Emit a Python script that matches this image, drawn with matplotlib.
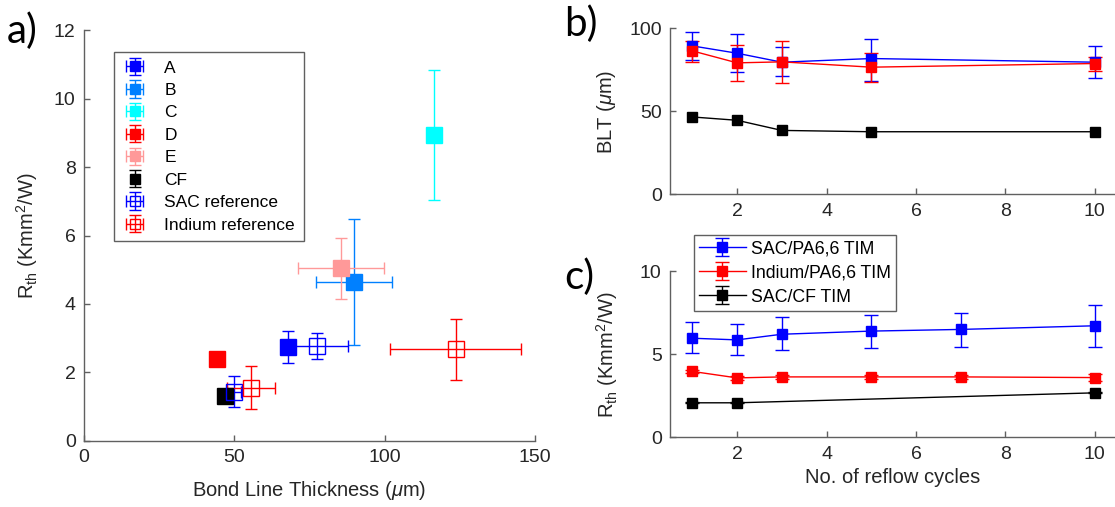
import numpy as np
import matplotlib
matplotlib.use("Agg")
import matplotlib.pyplot as plt

plt.rcParams['font.family'] = ['Liberation Sans', 'DejaVu Sans']
plt.rcParams['mathtext.fontset'] = 'custom'
plt.rcParams['mathtext.rm'] = 'Liberation Sans'
plt.rcParams['mathtext.it'] = 'Liberation Sans:italic'
plt.rcParams['mathtext.bf'] = 'Liberation Sans:bold'

# ---- panel a: Rth vs bond line thickness ----
samples = ['A', 'B', 'C', 'D', 'E', 'CF']
sample_colors = ['#0000ff', '#0080ff', '#00ffff', '#ff0000', '#ff9999', '#000000']
blt_a = [67.7, 89.8, 116.4, 44.1, 85.5, 46.9]
blt_a_err = [0.0, 12.7, 0.0, 0.0, 14.2, None]
rth_a = [2.75, 4.65, 8.93, 2.39, 5.04, 1.32]
rth_a_err = [0.46, 1.84, 1.90, 0.0, 0.88, 0.0]

sac_ref_blt = [49.9, 77.4]
sac_ref_blt_err = [2.4, 10.5]
sac_ref_rth = [1.44, 2.77]
sac_ref_rth_err = [0.45, 0.38]

in_ref_blt = [55.5, 123.6]
in_ref_blt_err = [7.9, 21.8]
in_ref_rth = [1.56, 2.68]
in_ref_rth_err = [0.62, 0.89]

# ---- panels b, c: vs reflow cycles ----
cyc_blt = [1, 2, 3, 5, 10]
blt_sac = [89.5, 85.1, 79.7, 81.9, 79.7]
blt_sac_lo = [80.9, 73.6, 71.2, 68.6, 70.2]
blt_sac_hi = [97.8, 96.4, 88.9, 93.6, 89.7]
blt_in = [86.5, 79.3, 79.9, 76.7, 78.9]
blt_in_lo = [80.1, 68.6, 67.0, 68.0, 74.2]
blt_in_hi = [92.4, 89.9, 92.2, 85.1, 82.9]
blt_cf = [46.7, 44.7, 38.6, 37.8, 37.8]

cyc_rth = [1, 2, 3, 5, 7, 10]
rth_sac = [5.98, 5.88, 6.22, 6.41, 6.51, 6.73]
rth_sac_lo = [5.06, 4.96, 5.28, 5.40, 5.48, 5.46]
rth_sac_hi = [6.93, 6.83, 7.25, 7.39, 7.51, 8.01]
rth_in = [3.98, 3.59, 3.65, 3.65, 3.65, 3.61]
rth_in_err = [0.1, 0.1, 0.1, 0.1, 0.1, 0.2]
cyc_cf = [1, 2, 10]
rth_cf = [2.09, 2.09, 2.69]

series_names = ['SAC/PA6,6 TIM', 'Indium/PA6,6 TIM', 'SAC/CF TIM']
series_colors = ['#0000ff', '#ff0000', '#000000']

spine_col = '#606060'
text_col = '#262626'
tick_fs = 14
label_fs = 14.5


def style_axes(ax):
    for s in ['top', 'right']:
        ax.spines[s].set_visible(False)
    for s in ['left', 'bottom']:
        ax.spines[s].set_color(spine_col)
        ax.spines[s].set_linewidth(1.0)
    ax.tick_params(direction='in', length=4, width=1, color=spine_col,
                   labelcolor=text_col, labelsize=tick_fs, pad=6)


def asym(y, lo, hi):
    y = np.array(y)
    return [y - np.array(lo), np.array(hi) - y]


fig = plt.figure(figsize=(11.15, 5.07), dpi=100)

ax_a = fig.add_axes([0.0753, 0.1302, 0.4045, 0.8106])
ax_b = fig.add_axes([0.6009, 0.6164, 0.3991, 0.3274])
ax_c = fig.add_axes([0.6009, 0.1371, 0.3991, 0.3274])

# panel a
for i in range(len(samples)):
    ax_a.errorbar(blt_a[i], rth_a[i], yerr=rth_a_err[i], xerr=blt_a_err[i],
                  fmt='s', color=sample_colors[i], ms=11, elinewidth=1.0,
                  capsize=4, capthick=1.0, label=samples[i])
ax_a.errorbar(sac_ref_blt, sac_ref_rth, yerr=sac_ref_rth_err, xerr=sac_ref_blt_err,
              fmt='s', color='#0000ff', mfc='none', ms=11, mew=1.0,
              elinewidth=1.0, capsize=4, capthick=1.0, label='SAC reference')
ax_a.errorbar(in_ref_blt, in_ref_rth, yerr=in_ref_rth_err, xerr=in_ref_blt_err,
              fmt='s', color='#ff0000', mfc='none', ms=11, mew=1.0,
              elinewidth=1.0, capsize=4, capthick=1.0, label='Indium reference')
ax_a.set_xlim(0, 150)
ax_a.set_ylim(0, 12)
ax_a.set_xticks([0, 50, 100, 150])
ax_a.set_yticks(range(0, 13, 2))
style_axes(ax_a)
ax_a.set_xlabel(r'Bond Line Thickness ($\mu$m)', fontsize=label_fs, color=text_col, labelpad=9)
ax_a.set_ylabel(r'R$_{\rm th}$ (Kmm$^2$/W)', fontsize=label_fs, color=text_col, labelpad=10)
leg = ax_a.legend(loc='upper left', bbox_to_anchor=(0.1022, 0.898),
                  bbox_transform=fig.transFigure, borderaxespad=0, fontsize=12.5,
                  handlelength=1.4, labelspacing=0.42, borderpad=0.5,
                  handletextpad=1.0, fancybox=False, framealpha=1, markerscale=0.6)
leg.get_frame().set_edgecolor(spine_col)

# panel b
ax_b.errorbar(cyc_blt, blt_sac, yerr=asym(blt_sac, blt_sac_lo, blt_sac_hi),
              fmt='-s', color=series_colors[0], ms=7, lw=1.0, capsize=5)
ax_b.errorbar(cyc_blt, blt_in, yerr=asym(blt_in, blt_in_lo, blt_in_hi),
              fmt='-s', color=series_colors[1], ms=7, lw=1.0, capsize=5)
ax_b.errorbar(cyc_blt, blt_cf, yerr=0.3,
              fmt='-s', color=series_colors[2], ms=7, lw=1.0, capsize=3)
ax_b.set_xlim(0.5, 10.45)
ax_b.set_ylim(0, 100)
ax_b.set_xticks([2, 4, 6, 8, 10])
ax_b.set_yticks([0, 50, 100])
style_axes(ax_b)
ax_b.set_ylabel(r'BLT ($\mu$m)', fontsize=label_fs, color=text_col, labelpad=8)

# panel c
ax_c.errorbar(cyc_rth, rth_sac, yerr=asym(rth_sac, rth_sac_lo, rth_sac_hi),
              fmt='-s', color=series_colors[0], ms=7, lw=1.0, capsize=5,
              label=series_names[0])
ax_c.errorbar(cyc_rth, rth_in, yerr=rth_in_err,
              fmt='-s', color=series_colors[1], ms=7, lw=1.0, capsize=5,
              label=series_names[1])
ax_c.errorbar(cyc_cf, rth_cf, yerr=0.03,
              fmt='-s', color=series_colors[2], ms=7, lw=1.0, capsize=5,
              label=series_names[2])
ax_c.set_xlim(0.5, 10.45)
ax_c.set_ylim(0, 10)
ax_c.set_xticks([2, 4, 6, 8, 10])
ax_c.set_yticks([0, 5, 10])
style_axes(ax_c)
ax_c.set_xlabel('No. of reflow cycles', fontsize=label_fs, color=text_col, labelpad=4)
ax_c.set_ylabel(r'R$_{\rm th}$ (Kmm$^2$/W)', fontsize=label_fs, color=text_col, labelpad=14)
leg_c = ax_c.legend(loc='upper left', bbox_to_anchor=(0.6224, 0.5365),
                    bbox_transform=fig.transFigure, borderaxespad=0, fontsize=12.8,
                    handlelength=2.6, labelspacing=0.4, borderpad=0.3,
                    handletextpad=0.3, fancybox=False, framealpha=1)
leg_c.get_frame().set_edgecolor(spine_col)

# panel letters
fig.text(0.006, 0.915, 'a)', fontsize=29, family='Lato', color='black')
fig.text(0.506, 0.928, 'b)', fontsize=29, family='Lato', color='black')
fig.text(0.506, 0.43, 'c)', fontsize=29, family='Lato', color='black')

fig.savefig('out.png', dpi=100)
